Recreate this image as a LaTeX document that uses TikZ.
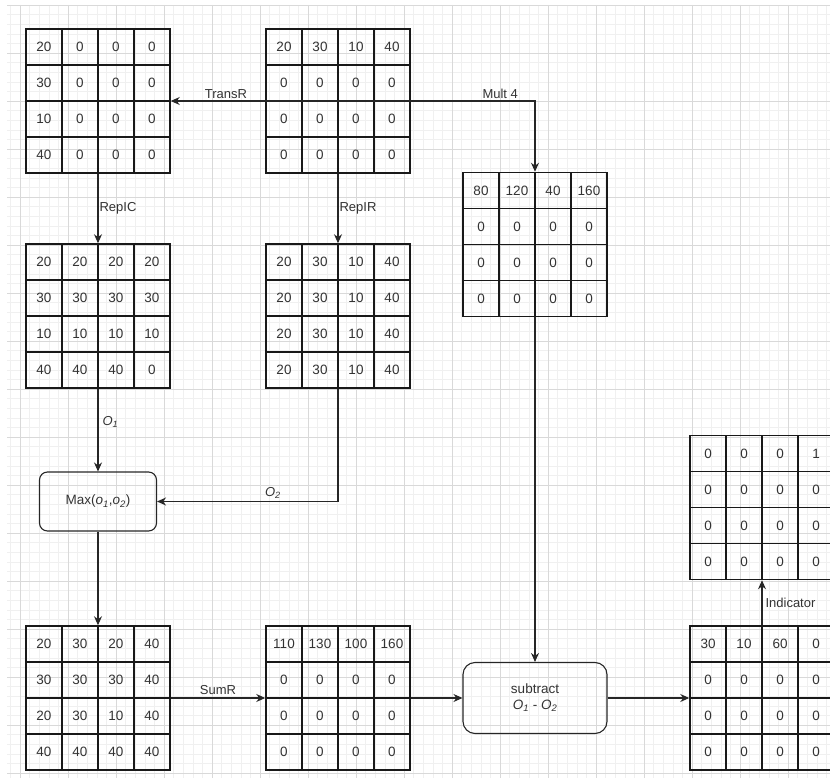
\documentclass[tikz,border=0pt]{standalone}
\usepackage{fontspec}
\setmainfont{Liberation Sans}
\usetikzlibrary{matrix,arrows.meta}

\begin{document}
\begin{tikzpicture}[x=1pt, y=-1pt, every node/.style={font=\fontsize{13.5}{16}\selectfont, text=black!80},
	gminor/.style={draw=black!6, line width=0.5pt}, gmajor/.style={draw=black!15, line width=0.6pt},
	cell/.style={draw=black!90, line width=1.5pt, minimum size=36pt, inner sep=0pt},
	mat/.style={matrix of nodes, nodes={cell}, column sep=-1.5pt, row sep=-1.5pt, inner sep=0pt, outer sep=0pt},
	op/.style={draw=black!85, line width=1.1pt, align=center, inner sep=0pt},
	edge/.style={draw=black!85, line width=1.1pt, -{Stealth[length=9pt, width=8pt]}},
	lbl/.style={font=\fontsize{13}{15}\selectfont, inner sep=2pt}]
	\useasboundingbox (0,0) rectangle (830,778);
	\clip (0,0) rectangle (830,778);
	% background grid
	\foreach \gx in {10.4,20,...,830} {\draw[gminor] (\gx,5) -- (\gx,778);}
	\foreach \gy in {5,14.6,...,778} {\draw[gminor] (7,\gy) -- (830,\gy);}
	\foreach \gx in {20,68,...,830} {\draw[gmajor] (\gx,5) -- (\gx,778);}
	\foreach \gy in {5,53,...,778} {\draw[gmajor] (7,\gy) -- (830,\gy);}
	% matrices
	\matrix[mat] (trans) at (98,101) {20 & 0 & 0 & 0\\ 30 & 0 & 0 & 0\\ 10 & 0 & 0 & 0\\ 40 & 0 & 0 & 0\\};
	\matrix[mat] (vec) at (338,101) {20 & 30 & 10 & 40\\ 0 & 0 & 0 & 0\\ 0 & 0 & 0 & 0\\ 0 & 0 & 0 & 0\\};
	\matrix[mat] (mult) at (535,244.5) {80 & 120 & 40 & 160\\ 0 & 0 & 0 & 0\\ 0 & 0 & 0 & 0\\ 0 & 0 & 0 & 0\\};
	\matrix[mat] (repc) at (98,316) {20 & 20 & 20 & 20\\ 30 & 30 & 30 & 30\\ 10 & 10 & 10 & 10\\ 40 & 40 & 40 & 0\\};
	\matrix[mat] (repr) at (338,316) {20 & 30 & 10 & 40\\ 20 & 30 & 10 & 40\\ 20 & 30 & 10 & 40\\ 20 & 30 & 10 & 40\\};
	\matrix[mat] (mxm) at (98,698) {20 & 30 & 20 & 40\\ 30 & 30 & 30 & 40\\ 20 & 30 & 10 & 40\\ 40 & 40 & 40 & 40\\};
	\matrix[mat] (sums) at (338,698) {110 & 130 & 100 & 160\\ 0 & 0 & 0 & 0\\ 0 & 0 & 0 & 0\\ 0 & 0 & 0 & 0\\};
	\matrix[mat] (diff) at (762,698) {30 & 10 & 60 & 0\\ 0 & 0 & 0 & 0\\ 0 & 0 & 0 & 0\\ 0 & 0 & 0 & 0\\};
	\matrix[mat] (ind) at (762,507.5) {0 & 0 & 0 & 1\\ 0 & 0 & 0 & 0\\ 0 & 0 & 0 & 0\\ 0 & 0 & 0 & 0\\};
	% operations
	\node[op, rounded corners=8pt, minimum width=117pt, minimum height=59pt] (mx) at (98,501.5) {Max(\textit{o}\textsubscript{\textit{1}},\textit{o}\textsubscript{\textit{2}})};
	\node[op, rounded corners=12pt, minimum width=144pt, minimum height=71pt] (sub) at (535,698) {subtract\\ \textit{O}\textsubscript{\textit{1}} - \textit{O}\textsubscript{\textit{2}}};
	% connectors
	\draw[edge] (vec.east) -- node[lbl, above, pos=0.77] {TransR} (trans.east);
	\draw[edge] (vec.east) -| node[lbl, above, pos=0.36] {Mult 4} (mult.north);
	\draw[edge] (trans.south) -- node[lbl, right, inner sep=1pt] {RepIC} (repc.north);
	\draw[edge] (vec.south) -- node[lbl, right, inner sep=1pt] {RepIR} (repr.north);
	\draw[edge] (repc.south) -- node[lbl, right, pos=0.4, inner sep=4pt] {\textit{O}\textsubscript{\textit{1}}} (mx.north);
	\draw[edge] (repr.south) |- node[lbl, above, pos=0.68] {\textit{O}\textsubscript{\textit{2}}} (mx.east);
	\draw[edge] (mx.south) -- (mxm.north);
	\draw[edge] (mxm.east) -- node[lbl, above, inner sep=3pt] {SumR} (sums.west);
	\draw[edge] (sums.east) -- (sub.west);
	\draw[edge] (mult.south) -- (sub.north);
	\draw[edge] (sub.east) -- (diff.west);
	\draw[edge] (diff.north) -- node[lbl, right, inner sep=3pt] {Indicator} (ind.south);
\end{tikzpicture}
\end{document}
